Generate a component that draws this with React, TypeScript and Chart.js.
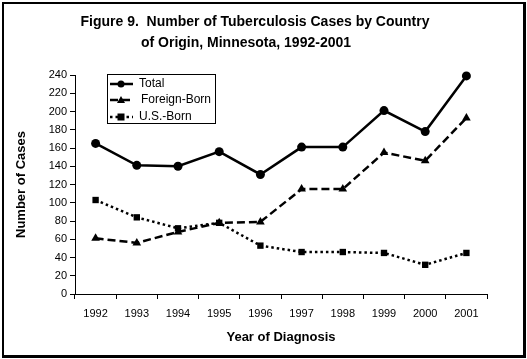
import React, { useEffect, useRef } from "react";
import { Chart, registerables } from "chart.js";

Chart.register(...registerables);

const years = ["1992", "1993", "1994", "1995", "1996", "1997", "1998", "1999", "2000", "2001"];
const total = [165, 141, 140, 156, 131, 161, 161, 201, 178, 239];
const foreignBorn = [61, 56, 68, 78, 79, 115, 115, 155, 146, 193];
const usBorn = [103, 84, 72, 78, 53, 46, 46, 45, 32, 45];
const seriesNames = ["Total", "Foreign-Born", "U.S.-Born"];
const titleLines = ["Figure 9.  Number of Tuberculosis Cases by Country", "of Origin, Minnesota, 1992-2001"];
const yTitle = "Number of Cases";
const xTitle = "Year of Diagnosis";
const yMin = 0;
const yMax = 240;
const yStep = 20;

const FONT = "'Liberation Sans', Arial, sans-serif";
const dashes = [[], [8, 4], [2.5, 3]];
const markers = ["circle", "triangle", "rect"];

const decorPlugin = {
  id: "decor",
  afterDraw(chart: any) {
    const ctx = chart.ctx;
    ctx.save();
    // frame
    ctx.strokeStyle = "#000";
    ctx.setLineDash([]);
    ctx.lineWidth = 2;
    ctx.beginPath();
    ctx.moveTo(3, 357);
    ctx.lineTo(3, 3);
    ctx.lineTo(525, 3);
    ctx.stroke();
    ctx.lineWidth = 3;
    ctx.beginPath();
    ctx.moveTo(524.5, 2);
    ctx.lineTo(524.5, 356.5);
    ctx.lineTo(2, 356.5);
    ctx.stroke();
    // title
    ctx.fillStyle = "#000";
    ctx.font = `bold 14px ${FONT}`;
    ctx.textAlign = "center";
    ctx.textBaseline = "middle";
    ctx.fillText(titleLines[0], 255, 22);
    ctx.fillText(titleLines[1], 246, 43);
    // legend
    const bx = 107, by = 74, bw = 108, bh = 49;
    ctx.lineWidth = 1;
    ctx.fillStyle = "#fff";
    ctx.fillRect(bx, by, bw, bh);
    ctx.strokeRect(bx + 0.5, by + 0.5, bw, bh);
    const rows = [84, 100, 117];
    ctx.font = `12px ${FONT}`;
    ctx.textAlign = "left";
    for (let i = 0; i < 3; i++) {
      const y = rows[i];
      ctx.strokeStyle = "#000";
      ctx.lineWidth = 2.5;
      ctx.setLineDash(dashes[i]);
      ctx.beginPath();
      ctx.moveTo(110, y);
      ctx.lineTo(133, y);
      ctx.stroke();
      ctx.setLineDash([]);
      ctx.fillStyle = "#000";
      const cx = 121;
      if (i === 0) {
        ctx.beginPath();
        ctx.arc(cx, y, 3.5, 0, Math.PI * 2);
        ctx.fill();
      } else if (i === 1) {
        ctx.beginPath();
        ctx.moveTo(cx, y - 4);
        ctx.lineTo(cx + 4, y + 3);
        ctx.lineTo(cx - 4, y + 3);
        ctx.closePath();
        ctx.fill();
      } else {
        ctx.fillRect(cx - 3.5, y - 3.5, 7, 7);
      }
      ctx.fillText(seriesNames[i], i === 1 ? 141 : 139, y);
    }
    ctx.restore();
  },
};

export default function App() {
  const ref = useRef<HTMLCanvasElement | null>(null);
  useEffect(() => {
    if (!ref.current) return;
    const mk = (label: string, data: number[], i: number, radius: number) => ({
      label,
      data,
      borderColor: "#000",
      backgroundColor: "#000",
      borderWidth: 2.5,
      borderDash: dashes[i],
      pointStyle: markers[i],
      pointRadius: radius,
      pointBorderWidth: 0,
      pointBackgroundColor: "#000",
      tension: 0,
      fill: false,
      clip: false,
    });
    const chart = new Chart(ref.current, {
      type: "line",
      data: {
        labels: years,
        datasets: [
          mk(seriesNames[0], total, 0, 4.5),
          mk(seriesNames[1], foreignBorn, 1, 5),
          mk(seriesNames[2], usBorn, 2, 4.5),
        ],
      },
      plugins: [decorPlugin],
      options: {
        animation: false,
        responsive: false,
        devicePixelRatio: 1,
        layout: { padding: { top: 75, right: 40, left: 0, bottom: 0 } },
        plugins: {
          legend: { display: false },
          title: { display: false },
          tooltip: { enabled: false },
        },
        scales: {
          x: {
            type: "category",
            offset: true,
            grid: {
              offset: true,
              drawOnChartArea: false,
              drawTicks: true,
              tickLength: 5,
              color: "#000",
              lineWidth: 1,
            },
            border: { display: true, color: "#000", width: 1 },
            ticks: {
              color: "#000",
              font: { family: FONT, size: 11 },
              padding: 8,
              maxRotation: 0,
              autoSkip: false,
            },
            title: {
              display: true,
              text: xTitle,
              color: "#000",
              font: { family: FONT, size: 13, weight: "bold" },
              padding: { top: 0, bottom: 14 },
            },
            afterFit: (s: any) => {
              s.height = 65;
            },
          },
          y: {
            min: yMin,
            max: yMax,
            ticks: {
              stepSize: yStep,
              color: "#000",
              font: { family: FONT, size: 11 },
              padding: 3,
            },
            grid: {
              drawOnChartArea: false,
              drawTicks: true,
              tickLength: 5,
              color: "#000",
              lineWidth: 1,
            },
            border: { display: true, color: "#000", width: 1 },
            title: {
              display: true,
              text: yTitle,
              color: "#000",
              font: { family: FONT, size: 13, weight: "bold" },
              padding: { top: 14, bottom: 0 },
            },
            afterFit: (s: any) => {
              s.width = 75;
            },
          },
        },
      } as any,
    });
    return () => chart.destroy();
  }, []);
  return (
    <div style={{ position: "absolute", left: 0, top: 0, width: 527, height: 359, background: "#fff" }}>
      <canvas ref={ref} width={527} height={359} style={{ display: "block", width: 527, height: 359 }} />
    </div>
  );
}
